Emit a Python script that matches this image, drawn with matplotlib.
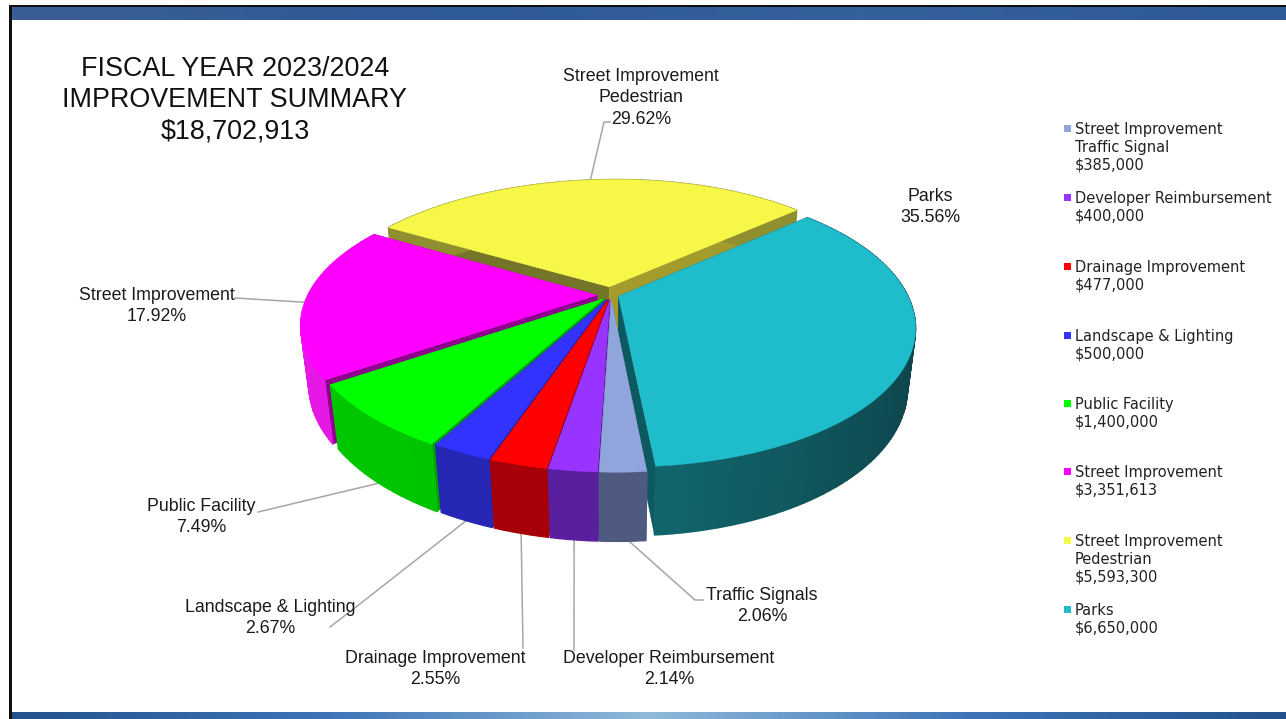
""" Fiscal year improvement summary, exploded 3D pie
"""
import numpy as np
import matplotlib
matplotlib.use("Agg")
from matplotlib import pyplot as plt
from matplotlib.colors import LinearSegmentedColormap, to_rgb
from matplotlib.patches import Polygon, Rectangle

plt.rcParams['font.family'] = ['Liberation Sans', 'DejaVu Sans']

# Data
legend_names = ["Street Improvement\nTraffic Signal", "Developer Reimbursement", "Drainage Improvement",
                "Landscape & Lighting", "Public Facility", "Street Improvement",
                "Street Improvement\nPedestrian", "Parks"]
amounts = [385000, 400000, 477000, 500000, 1400000, 3351613, 5593300, 6650000]
pct_labels = ["2.06%", "2.14%", "2.55%", "2.67%", "7.49%", "17.92%", "29.62%", "35.56%"]
slice_names = ["Traffic Signals", "Developer Reimbursement", "Drainage Improvement", "Landscape & Lighting",
               "Public Facility", "Street Improvement", "Street Improvement\nPedestrian", "Parks"]
title_lines = ["FISCAL YEAR 2023/2024", "IMPROVEMENT SUMMARY", "$18,702,913"]

# Colors: top face, wall near, wall far, radial cuts
top_colors = ['#8fa5dc', '#9933ff', '#ff0000', '#3333ff', '#00ff00', '#ff00ff', '#f7f748', '#1fbccb']
wall_a = ['#4f5a80', '#5a1f9e', '#a80008', '#2a2ab8', '#00c000', '#d010d0', '#8f8f30', '#10696f']
wall_b = ['#4f5a80', '#5a1f9e', '#a80008', '#2222b0', '#00c800', '#e818e8', '#8f8f30', '#0f444c']
cut_a = ['#5a6690', '#5a1f9e', '#a80008', '#2020a0', '#00a000', '#8f008f', '#75752a', '#0c5a60']
cut_b = ['#5a6690', '#5a1f9e', '#a80008', '#2020a0', '#00a000', '#8f008f', '#a39c2c', '#0c5a60']
explode_px = [10., 10., 10., 10., 11., 14., 18., 8.]

# Projection of the pie
CX, CY = 611., 295.
RAD = 289.
TILT = np.deg2rad(62.5)
DIST = 1200.
HEIGHT = 68.
BOW = 5.
START = 175.3


def project(phi, rad, z, bisect, explode):
    """ Pie coordinates (deg clockwise from the back, radius, height) to pixels
    """
    phi = np.deg2rad(phi)
    bis = np.deg2rad(bisect)
    x = rad*np.sin(phi) + explode*np.sin(bis)
    y = rad*np.cos(phi) + explode*np.cos(bis)
    scale = DIST/(DIST + y*np.sin(TILT) - z*np.cos(TILT))
    return CX + x*scale + BOW*(y/RAD)**2, CY - (y*np.cos(TILT) + z*np.sin(TILT))*scale


values = np.array(amounts, dtype=float)
edges = START + np.concatenate([[0.], np.cumsum(values)])/values.sum()*360.
bisects = 0.5*(edges[:-1] + edges[1:])

fig = plt.figure(figsize=(12.86, 7.19), dpi=100)
ax = fig.add_axes([0, 0, 1, 1])
ax.axis('off')

# Slide frame
band_top = LinearSegmentedColormap.from_list('t', ['#3a5f94', '#2f5a98', '#34609c', '#2f5a98'])
band_bot = LinearSegmentedColormap.from_list('b', ['#24528e', '#3f74b8', '#8fbada', '#3f74b8', '#24528e'])
grad = np.linspace(0, 1, 256).reshape(1, -1)
ax.imshow(grad, extent=(11, 1286, 20, 7), cmap=band_top, aspect='auto', zorder=1)
ax.imshow(grad, extent=(11, 1286, 719, 712), cmap=band_bot, aspect='auto', zorder=1)
ax.set_xlim(0, 1286)
ax.set_ylim(719, 0)
ax.add_patch(Rectangle((9, 5), 1277, 2, color='#101010', lw=0, zorder=2))
ax.add_patch(Rectangle((9, 5), 2.5, 714, color='#101010', lw=0, zorder=2))

# Pie, back slices first
order = np.argsort(-np.cos(np.deg2rad(bisects)))
zo = 3
for idx in order:
    a0, a1, bis, exp = edges[idx], edges[idx+1], bisects[idx], explode_px[idx]
    arc = np.linspace(a0, a1, max(int((a1-a0)/1.5), 3)+1)
    # Radial cuts
    for edge, col in ((a0, cut_a[idx]), (a1, cut_b[idx])):
        xt, yt = project(edge, RAD, 0., bis, exp)
        xb, yb = project(edge, RAD, -HEIGHT, bis, exp)
        xc, yc = project(edge, 0., 0., bis, exp)
        xd, yd = project(edge, 0., -HEIGHT, bis, exp)
        ax.add_patch(Polygon([(xc, yc), (xt, yt), (xb, yb), (xd, yd)], fc=col, ec=col, lw=0.3, zorder=zo))
    # Outer wall
    ca, cb = np.array(to_rgb(wall_a[idx])), np.array(to_rgb(wall_b[idx]))
    for jj in range(len(arc)-1):
        frac = abs(np.sin(np.deg2rad(0.5*(arc[jj]+arc[jj+1]))))
        xt, yt = project(arc[jj:jj+2], RAD, 0., bis, exp)
        xb, yb = project(arc[jj:jj+2], RAD, -HEIGHT, bis, exp)
        col = tuple(ca + (cb-ca)*frac)
        ax.add_patch(Polygon([(xt[0], yt[0]), (xt[1], yt[1]), (xb[1], yb[1]), (xb[0], yb[0])],
                             fc=col, ec=col, lw=1.0, joinstyle='round', zorder=zo))
    # Top face
    xt, yt = project(arc, RAD, 0., bis, exp)
    xc, yc = project(bis, 0., 0., bis, exp)
    ax.add_patch(Polygon(np.column_stack([np.r_[xc, xt], np.r_[yc, yt]]), fc=top_colors[idx],
                         ec=top_colors[idx], lw=0.3, zorder=zo))
    zo += 1

# Leader lines: start on the slice, then to the text
LINE = '#a6a6a6'
leader_pts = {0: [(695, 600), (703, 600)], 1: [(574, 650)], 2: [(523, 648)],
              3: [(356, 607), (330, 627)], 4: [(258, 512)], 5: [(235, 298)], 6: [(604, 122), (610, 122)]}
leader_phi = {0: 178., 1: bisects[1], 2: bisects[2], 3: bisects[3], 4: bisects[4], 5: -93., 6: -6.}
leader_z = {0: -HEIGHT, 1: -HEIGHT, 2: -HEIGHT, 3: -HEIGHT, 4: -HEIGHT, 5: 0., 6: 0.}
for idx, pts in leader_pts.items():
    x0, y0 = project(leader_phi[idx], RAD, leader_z[idx], bisects[idx], explode_px[idx])
    xs = [x0] + [p[0] for p in pts]
    ys = [y0] + [p[1] for p in pts]
    ax.plot(xs, ys, color=LINE, lw=1.1, zorder=2.5)

# Slice labels
label_xy = [(762, 606), (669, 669), (435, 669), (270, 618), (201, 517), (157, 306), (641, 98), (930, 207)]
for name, pct, (lx, ly) in zip(slice_names, pct_labels, label_xy):
    ax.text(lx, ly, name + "\n" + pct, ha='center', va='center', fontsize=12.8, color='#1a1a1a',
            linespacing=1.38, zorder=20)

# Title
for line, ty in zip(title_lines, (69, 100, 131)):
    ax.text(235, ty, line, ha='center', va='center', fontsize=19.4, color='#111111', zorder=20)

# Legend
legend_y = [129, 198, 267, 336, 404, 472, 541, 610]
for name, amt, col, ly in zip(legend_names, amounts, top_colors, legend_y):
    ax.add_patch(Rectangle((1064, ly-4), 7, 7, color=col, lw=0, zorder=20))
    ax.text(1075, ly-7, name + "\n${:,}".format(amt), ha='left', va='top', fontsize=10.5, color='#222222',
            family=['DejaVu Sans'], linespacing=1.22, zorder=20)

fig.savefig('out.png', dpi=100)
